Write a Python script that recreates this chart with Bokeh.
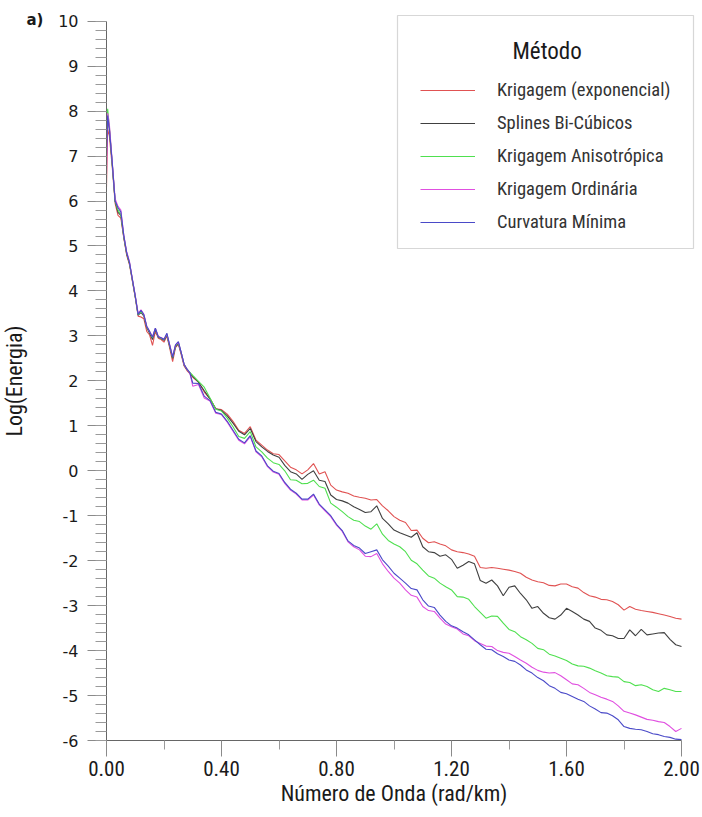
from bokeh.plotting import figure
from bokeh.models import (Range1d, FixedTicker, Legend, LegendItem, Label,
                          BoxAnnotation, NumeralTickFormatter)
from bokeh.embed import file_html
from bokeh.resources import INLINE

# ---------------- data ----------------
wavenumber = [0.0, 0.004, 0.01, 0.02, 0.03, 0.04, 0.05, 0.06, 0.07, 0.08, 0.09,
              0.10, 0.11, 0.12, 0.13, 0.14, 0.15, 0.16, 0.17, 0.18, 0.19, 0.20,
              0.21, 0.22, 0.23, 0.24, 0.25, 0.26, 0.27, 0.28, 0.29, 0.30,
              0.32, 0.34, 0.36, 0.38, 0.40, 0.42, 0.44, 0.46, 0.48, 0.50,
              0.52, 0.54, 0.56, 0.58, 0.60, 0.62, 0.64, 0.66, 0.68, 0.70,
              0.72, 0.74, 0.76, 0.78, 0.80, 0.82, 0.84, 0.86, 0.88, 0.90,
              0.92, 0.94, 0.96, 0.98, 1.00, 1.02, 1.04, 1.06, 1.08, 1.10,
              1.12, 1.14, 1.16, 1.18, 1.20, 1.22, 1.24, 1.26, 1.28, 1.30,
              1.32, 1.34, 1.36, 1.38, 1.40, 1.42, 1.44, 1.46, 1.48, 1.50,
              1.52, 1.54, 1.56, 1.58, 1.60, 1.62, 1.64, 1.66, 1.68, 1.70,
              1.72, 1.74, 1.76, 1.78, 1.80, 1.82, 1.84, 1.86, 1.88, 1.90,
              1.92, 1.94, 1.96, 1.98, 2.00]

krig_exp = [6.31, 7.6, 7.45, 6.75, 5.95, 5.68, 5.62, 5.18, 4.8, 4.58, 4.22, 3.85,
            3.44, 3.42, 3.38, 3.1, 3.02, 2.79, 3.1, 2.95, 2.92, 2.86, 3.0, 2.72,
            2.43, 2.74, 2.82, 2.58, 2.33, 2.23, 2.16, 2.08,
            1.97, 1.75, 1.6, 1.38, 1.36, 1.26, 1.1, 0.9, 0.83, 0.98,
            0.68, 0.57, 0.46, 0.38, 0.36, 0.22, 0.08, 0.02, -0.07, 0.02,
            0.16, -0.07, -0.02, -0.32, -0.43, -0.47, -0.5, -0.56, -0.59, -0.61,
            -0.65, -0.64, -0.78, -0.89, -1.02, -1.1, -1.15, -1.33, -1.32, -1.5,
            -1.6, -1.58, -1.63, -1.67, -1.76, -1.8, -1.82, -1.85, -1.9, -2.15,
            -2.17, -2.15, -2.17, -2.19, -2.21, -2.24, -2.28, -2.37, -2.43, -2.47,
            -2.49, -2.55, -2.56, -2.52, -2.52, -2.58, -2.61, -2.71, -2.78, -2.81,
            -2.86, -2.87, -2.91, -2.98, -3.1, -3.02, -3.08, -3.11, -3.13, -3.15,
            -3.18, -3.21, -3.24, -3.28, -3.3]

splines = [7.2, 7.85, 7.6, 6.82, 6.0, 5.75, 5.68, 5.2, 4.83, 4.61, 4.24, 3.87,
           3.46, 3.52, 3.44, 3.18, 3.06, 2.92, 3.14, 2.97, 2.94, 2.9, 3.02, 2.76,
           2.5, 2.76, 2.83, 2.61, 2.35, 2.25, 2.18, 2.1,
           1.97, 1.78, 1.6, 1.38, 1.34, 1.22, 1.06, 0.88, 0.8, 0.94,
           0.65, 0.53, 0.43, 0.35, 0.3, 0.12, -0.02, -0.07, -0.19, -0.08,
           0.0, -0.21, -0.24, -0.54, -0.64, -0.67, -0.72, -0.8, -0.86, -0.93,
           -0.91, -0.78, -1.06, -1.18, -1.32, -1.38, -1.43, -1.48, -1.38, -1.69,
           -1.8, -1.82, -1.9, -1.87, -1.97, -2.17, -2.1, -2.02, -2.07, -2.44,
           -2.5, -2.43, -2.56, -2.78, -2.59, -2.56, -2.73, -2.87, -3.06, -3.02,
           -3.17, -3.27, -3.3, -3.21, -3.06, -3.13, -3.21, -3.3, -3.35, -3.5,
           -3.55, -3.65, -3.67, -3.73, -3.73, -3.54, -3.67, -3.53, -3.65, -3.63,
           -3.61, -3.6, -3.75, -3.87, -3.91]

krig_aniso = [7.4, 8.05, 7.65, 6.82, 6.0, 5.8, 5.7, 5.22, 4.85, 4.62, 4.25, 3.88,
              3.47, 3.55, 3.46, 3.2, 3.09, 2.96, 3.16, 2.98, 2.95, 2.92, 3.03, 2.78,
              2.52, 2.78, 2.85, 2.62, 2.36, 2.26, 2.19, 2.12,
              1.99, 1.86, 1.62, 1.37, 1.33, 1.17, 0.98, 0.76, 0.72, 0.87,
              0.53, 0.42, 0.28, 0.18, 0.14, 0.0, -0.2, -0.21, -0.29, -0.28,
              -0.21, -0.35, -0.39, -0.72, -0.81, -0.91, -1.02, -1.1, -1.13, -1.23,
              -1.3, -1.18, -1.41, -1.55, -1.63, -1.69, -1.8, -1.99, -2.07, -2.21,
              -2.34, -2.39, -2.5, -2.58, -2.65, -2.8, -2.81, -2.86, -3.02, -3.15,
              -3.28, -3.23, -3.24, -3.39, -3.53, -3.58, -3.69, -3.76, -3.84, -3.95,
              -3.98, -4.08, -4.12, -4.17, -4.22, -4.3, -4.34, -4.35, -4.39, -4.45,
              -4.5, -4.56, -4.58, -4.59, -4.69, -4.71, -4.78, -4.76, -4.8, -4.87,
              -4.91, -4.84, -4.87, -4.91, -4.91]

krig_ord = [6.6, 7.95, 7.7, 6.88, 6.05, 5.88, 5.8, 5.25, 4.88, 4.65, 4.27, 3.9,
            3.5, 3.58, 3.48, 3.22, 3.1, 2.98, 3.17, 2.99, 2.96, 2.93, 3.04, 2.8,
            2.54, 2.8, 2.86, 2.63, 2.36, 2.26, 2.17, 1.88,
            1.92, 1.62, 1.55, 1.28, 1.25, 1.08, 0.88, 0.68, 0.6, 0.76,
            0.42, 0.31, 0.09, -0.03, -0.08, -0.28, -0.43, -0.52, -0.65, -0.65,
            -0.54, -0.76, -0.89, -1.02, -1.21, -1.35, -1.58, -1.69, -1.76, -1.9,
            -1.91, -1.84, -2.07, -2.24, -2.39, -2.5, -2.65, -2.77, -2.81, -3.02,
            -3.11, -3.13, -3.28, -3.41, -3.47, -3.52, -3.63, -3.67, -3.78, -3.84,
            -3.9, -3.91, -4.0, -4.04, -4.06, -4.13, -4.21, -4.28, -4.37, -4.44,
            -4.48, -4.5, -4.49, -4.56, -4.65, -4.74, -4.76, -4.84, -4.93, -4.98,
            -5.04, -5.08, -5.13, -5.23, -5.35, -5.39, -5.43, -5.48, -5.53, -5.55,
            -5.58, -5.6, -5.69, -5.8, -5.73]

curv_min = [7.0, 7.9, 7.6, 6.85, 6.0, 5.85, 5.76, 5.24, 4.86, 4.63, 4.26, 3.89,
            3.48, 3.57, 3.47, 3.21, 3.1, 2.97, 3.17, 2.98, 2.96, 2.92, 3.06, 2.79,
            2.53, 2.8, 2.87, 2.63, 2.37, 2.26, 2.18, 1.95,
            1.94, 1.66, 1.56, 1.3, 1.26, 1.1, 0.9, 0.7, 0.62, 0.78,
            0.44, 0.33, 0.11, -0.01, -0.06, -0.26, -0.41, -0.5, -0.63, -0.63,
            -0.52, -0.74, -0.87, -1.0, -1.19, -1.33, -1.56, -1.66, -1.72, -1.84,
            -1.8, -1.76, -1.98, -2.12, -2.28, -2.39, -2.5, -2.62, -2.65, -2.87,
            -3.01, -3.04, -3.21, -3.35, -3.45, -3.5, -3.58, -3.65, -3.76, -3.87,
            -3.97, -3.98, -4.07, -4.13, -4.21, -4.24, -4.32, -4.43, -4.5, -4.6,
            -4.67, -4.78, -4.84, -4.93, -4.96, -5.02, -5.08, -5.13, -5.23, -5.3,
            -5.38, -5.39, -5.45, -5.54, -5.69, -5.73, -5.75, -5.76, -5.8, -5.85,
            -5.87, -5.91, -5.93, -5.97, -5.98]

series_names = ["Krigagem (exponencial)", "Splines Bi-Cúbicos",
                "Krigagem Anisotrópica", "Krigagem Ordinária", "Curvatura Mínima"]
series_values = [krig_exp, splines, krig_aniso, krig_ord, curv_min]
series_colors = ["#e05252", "#404040", "#4fe04f", "#e04fe0", "#4a4ac8"]

x_ticks = [0.0, 0.4, 0.8, 1.2, 1.6, 2.0]
x_minor = [0.2, 0.6, 1.0, 1.4, 1.8]
y_ticks = [-6, -5, -4, -3, -2, -1, 0, 1, 2, 3, 4, 5, 6, 7, 8, 9, 10]
y_tick_labels = ["-6", "-5", "-4", "-3", "-2", "-1", "0", "1", "2", "3", "4",
                 "5", "6", "7", "8", "9", "10"]

for s in series_values:
    assert len(s) == len(wavenumber), len(s)

NARROW = "'Liberation Sans Narrow', 'Arial Narrow', 'Roboto Condensed', 'DejaVu Sans Condensed', sans-serif"
TXT = "#1a1a1a"
W, H = 702, 817

# pixel geometry of the data area inside the canvas
PX_X0, PX_X1 = 106.0, 681.0      # x = 0 and x = 2
PX_YTOP, PX_YBOT = 20.7, 740.0   # y = 10 and y = -6
sx = (PX_X1 - PX_X0) / 2.0
sy = (PX_YBOT - PX_YTOP) / 16.0
xr = Range1d(0 - PX_X0 / sx, 2 + (W - PX_X1) / sx)
yr = Range1d(-6 - (H - PX_YBOT) / sy, 10 + PX_YTOP / sy)

p = figure(width=W, height=H, x_range=xr, y_range=yr,
           output_backend="svg", toolbar_location=None,
           min_border=0, min_border_left=0, min_border_right=0,
           min_border_top=0, min_border_bottom=0)
p.xgrid.grid_line_color = None
p.ygrid.grid_line_color = None
p.outline_line_color = None
p.background_fill_color = "white"

# x axis drawn at y = -6
p.xaxis.fixed_location = -6
p.xaxis.bounds = (0, 2)
p.xaxis.ticker = FixedTicker(ticks=x_ticks, minor_ticks=x_minor)
p.xaxis.formatter = NumeralTickFormatter(format="0.00")
p.xaxis.axis_label = "Número de Onda (rad/km)"
p.xaxis.axis_label_text_font = NARROW
p.xaxis.axis_label_text_font_style = "normal"
p.xaxis.axis_label_text_font_size = "22px"
p.xaxis.axis_label_text_color = TXT
p.xaxis.axis_label_standoff = 2
p.xaxis.major_label_text_font = NARROW
p.xaxis.major_label_text_font_size = "21px"
p.xaxis.major_label_text_color = TXT
p.xaxis.major_label_standoff = 4
p.xaxis.major_tick_out = 16
p.xaxis.major_tick_in = 0
p.xaxis.minor_tick_out = 9
p.xaxis.minor_tick_in = 0

# y axis drawn at x = 0
yminor = [round(-6 + 0.2 * i, 2) for i in range(81)]
p.yaxis.fixed_location = 0
p.yaxis.bounds = (-6, 10)
p.yaxis.ticker = FixedTicker(ticks=y_ticks, minor_ticks=yminor)
p.yaxis.major_label_overrides = {t: l for t, l in zip(y_ticks, y_tick_labels)}
p.yaxis.axis_label = "Log(Energia)"
p.yaxis.axis_label_text_font = NARROW
p.yaxis.axis_label_text_font_style = "normal"
p.yaxis.axis_label_text_font_size = "22px"
p.yaxis.axis_label_text_color = TXT
p.yaxis.axis_label_standoff = 28
p.yaxis.major_label_text_font = "DejaVu Sans"
p.yaxis.major_label_text_font_size = "16px"
p.yaxis.major_label_text_color = TXT
p.yaxis.major_label_standoff = 9
p.yaxis.major_tick_out = 19
p.yaxis.major_tick_in = 0
p.yaxis.minor_tick_out = 11
p.yaxis.minor_tick_in = 0

for ax in (p.xaxis, p.yaxis):
    ax.axis_line_color = "#666666"
    ax.major_tick_line_color = "#8a8a8a"
    ax.minor_tick_line_color = "#9a9a9a"

renderers = []
for vals, col in zip(series_values, series_colors):
    r = p.line(wavenumber, vals, line_color=col, line_width=1.1)
    renderers.append(r)

# legend frame (screen units: from canvas left / bottom)
box = BoxAnnotation(left=397, right=693, bottom=H - 248, top=H - 15,
                    left_units="screen", right_units="screen",
                    bottom_units="screen", top_units="screen",
                    fill_color=None, line_color="#7a7a7a", line_width=1.2)
p.add_layout(box)

legend = Legend(items=[LegendItem(label=n, renderers=[r])
                       for n, r in zip(series_names, renderers)],
                location=(420, H - 233), orientation="vertical",
                padding=0, margin=0, spacing=11,
                glyph_width=55, glyph_height=22, label_height=22,
                label_standoff=22, border_line_color=None,
                background_fill_alpha=0,
                label_text_font=NARROW, label_text_font_size="18.5px",
                label_text_color="#333333")
p.add_layout(legend)

p.add_layout(Label(x=512, y=H - 51, x_units="screen", y_units="screen",
                   text="Método", text_baseline="middle",
                   text_font=NARROW, text_font_size="23px", text_color=TXT))
p.add_layout(Label(x=26, y=H - 19, x_units="screen", y_units="screen",
                   text="a)", text_baseline="middle", text_font="DejaVu Sans",
                   text_font_style="bold", text_font_size="15px",
                   text_color=TXT))

open("out.html", "w").write(file_html(p, INLINE))
